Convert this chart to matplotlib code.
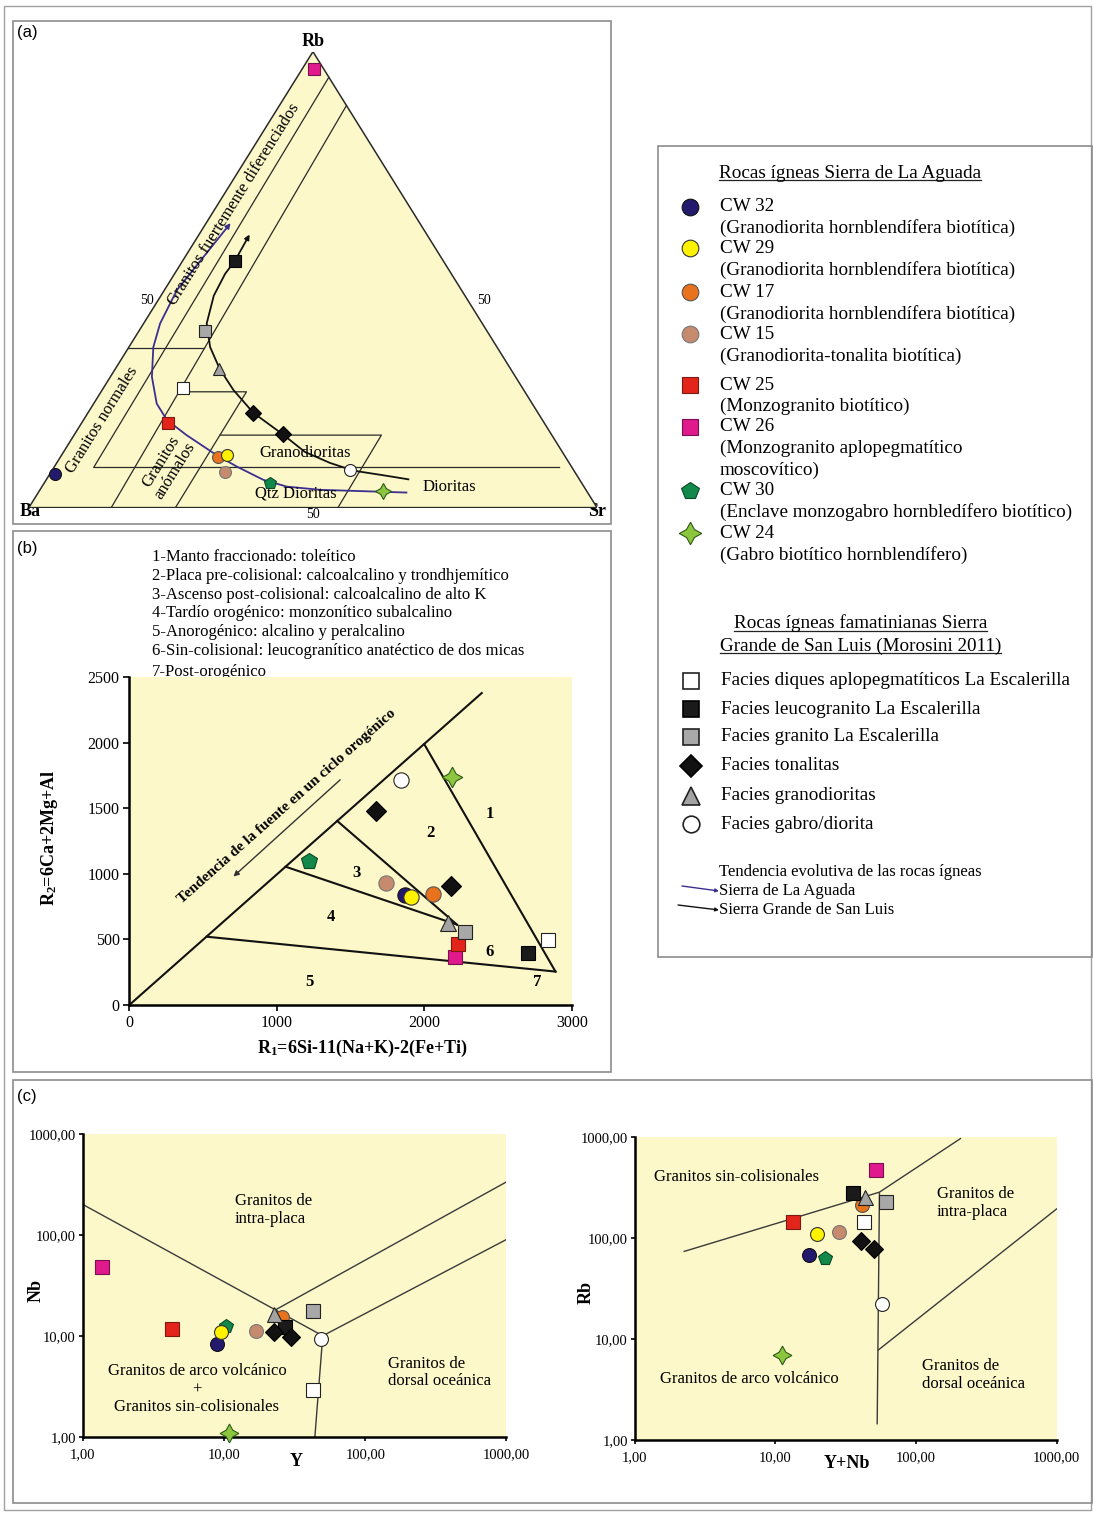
import numpy as np
import matplotlib.pyplot as plt
from matplotlib.patches import Rectangle, Polygon
from matplotlib.ticker import NullLocator

plt.rcParams['font.family'] = ['Liberation Serif', 'DejaVu Serif']
plt.rcParams['mathtext.fontset'] = 'custom'
plt.rcParams['mathtext.rm'] = 'Liberation Serif'
plt.rcParams['mathtext.bf'] = 'Liberation Serif:bold'
plt.rcParams['mathtext.it'] = 'Liberation Serif:italic'

# === DATA ===
# one entry per plotted point, legend order; tonalitas has two samples
keys = ['CW32', 'CW29', 'CW17', 'CW15', 'CW25', 'CW26', 'CW30', 'CW24',
        'diq', 'leu', 'gra', 'ton', 'ton', 'grd', 'gab']

# (a) Rb - Ba - Sr ternary, %
tern_rb = [7.3, 11.5, 11.1, 7.9, 18.6, 96.2, 5.5, 3.6, 26.3, 54.1, 38.7, 20.8, 16.1, 30.4, 8.2]
tern_sr = [1.0, 29.2, 27.8, 30.6, 15.1, 2.0, 39.7, 60.5, 14.0, 9.2, 11.7, 29.1, 36.6, 18.3, 52.5]
tern_ba = [91.7, 59.3, 61.1, 61.5, 66.3, 1.8, 54.8, 35.9, 59.7, 36.7, 49.6, 50.1, 47.3, 51.3, 39.3]

# evolution trends in (a): Rb %, Sr % (Ba = rest)
aguada_rb = [3.3, 3.9, 4.6, 6.1, 9.0, 11.5, 15.9, 19.2, 22.8, 28.7, 35.2, 40.4, 47.7, 62.4]
aguada_sr = [64.8, 49.3, 43.1, 38.2, 32.1, 27.3, 19.8, 14.7, 11.1, 7.3, 4.3, 2.9, 2.2, 4.3]
sanluis_rb = [6.2, 7.1, 8.1, 9.8, 12.2, 16.1, 20.8, 25.8, 30.4, 35.2, 40.4, 46.5, 51.3, 54.1, 59.9]
sanluis_sr = [63.7, 58.8, 53.1, 48.1, 42.5, 36.6, 29.1, 23.1, 18.4, 14.3, 11.1, 9.3, 8.9, 9.2, 8.9]

# field boundaries in (a): polylines of (Rb %, Sr %)
tern_fields = [
    [(94.4, 5.6), (8.8, 7.0), (8.8, 89.0)],
    [(88.2, 11.8), (0.0, 14.5)],
    [(34.9, 0.0), (34.9, 13.4)],
    [(25.4, 13.7), (25.4, 25.6), (0.0, 25.8)],
    [(15.9, 25.7), (15.9, 54.1), (0.0, 54.4)],
]

# (b) R1 - R2
r1 = [1871, 1912, 2057, 1742, 2227, 2206, 1220, 2188, 2837, 2704, 2279, 1672, 2181, 2159, 1844]
r2 = [840, 827, 847, 929, 466, 369, 1099, 1738, 496, 394, 560, 1483, 908, 623, 1718]
b_fields = [
    [(0, 0), (2390, 2380)],
    [(2000, 1990), (2890, 255)],
    [(525, 521), (2890, 255)],
    [(1410, 1404), (2222, 613)],
    [(1060, 1055), (2222, 613)],
]
b_zone_names = ['1', '2', '3', '4', '5', '6', '7']
b_zone_x = [2443, 2041, 1543, 1367, 1220, 2443, 2765]
b_zone_y = [1458, 1311, 1005, 674, 178, 407, 178]
b_legend = ['1-Manto fraccionado: toleítico',
            '2-Placa pre-colisional: calcoalcalino y trondhjemítico',
            '3-Ascenso post-colisional: calcoalcalino de alto K',
            '4-Tardío orogénico: monzonítico subalcalino',
            '5-Anorogénico: alcalino y peralcalino',
            '6-Sin-colisional: leucogranítico anatéctico de dos micas',
            '7-Post-orogénico']

# (c) Y - Nb
c1_y = [8.9, 9.5, 25.7, 16.7, 4.3, 1.36, 10.4, 10.8, 43, 27, 42.8, 22.7, 29.8, 22.5, 48.9]
c1_nb = [8.3, 10.8, 15.2, 11.2, 11.6, 48, 12.5, 1.1, 2.9, 12.3, 17.6, 11.0, 9.7, 16.4, 9.4]
c1_fields = [
    [(1, 200), (50, 10)],
    [(23, 18), (1000, 335)],
    [(50, 10), (1000, 90)],
    [(50, 10), (44, 1)],
]
# (c) Y+Nb - Rb
c2_ynb = [17.4, 19.7, 41.5, 28.5, 13.4, 52.3, 22.4, 11.2, 43, 35.9, 60.8, 40.5, 50.2, 43.5, 57.4]
c2_rb = [68.8, 111, 211, 116, 144, 474, 63.8, 7.0, 144, 282, 228, 93.4, 78.3, 257, 22.4]
c2_fields = [
    [(2.25, 74), (55, 286), (207, 970)],
    [(55, 280), (53, 1.45)],
    [(54, 7.8), (1000, 195)],
]
log_ticks = [1, 10, 100, 1000]
log_labels = ['1,00', '10,00', '100,00', '1000,00']

# legend texts
aguada_names = ['CW 32', 'CW 29', 'CW 17', 'CW 15', 'CW 25', 'CW 26', 'CW 30', 'CW 24']
aguada_desc = ['(Granodiorita hornblendífera biotítica)',
               '(Granodiorita hornblendífera biotítica)',
               '(Granodiorita hornblendífera biotítica)',
               '(Granodiorita-tonalita biotítica)',
               '(Monzogranito biotítico)',
               '(Monzogranito aplopegmatítico\nmoscovítico)',
               '(Enclave monzogabro hornbledífero biotítico)',
               '(Gabro biotítico hornblendífero)']
facies_keys = ['diq', 'leu', 'gra', 'ton', 'grd', 'gab']
facies_names = ['Facies diques aplopegmatíticos La Escalerilla',
                'Facies leucogranito La Escalerilla',
                'Facies granito La Escalerilla',
                'Facies tonalitas',
                'Facies granodioritas',
                'Facies gabro/diorita']

# === STYLES ===
W, H = 1094, 1514
BG = '#fdf8c9'
PURPLE = '#3b2f8f'
STYLE = {
    'CW32': dict(m='o', fc='#231a6e', ec='#111111', s=1.0),
    'CW29': dict(m='o', fc='#fff200', ec='#333333', s=1.0),
    'CW17': dict(m='o', fc='#e8731c', ec='#555555', s=1.0),
    'CW15': dict(m='o', fc='#c68a6e', ec='#777777', s=1.0),
    'CW25': dict(m='s', fc='#e3241b', ec='#7a1a10', s=0.95),
    'CW26': dict(m='s', fc='#e0198c', ec='#7a1050', s=0.95),
    'CW30': dict(m='p', fc='#12894a', ec='#0b4a26', s=1.08),
    'CW24': dict(m=(4, 1, 0), fc='#8cc63e', ec='#2d5a1a', s=1.35),
    'diq': dict(m='s', fc='white', ec='#222222', s=0.95),
    'leu': dict(m='s', fc='#1a1a1a', ec='#000000', s=0.95),
    'gra': dict(m='s', fc='#a8a8a8', ec='#222222', s=0.95),
    'ton': dict(m='D', fc='#111111', ec='#000000', s=0.9),
    'grd': dict(m='^', fc='#a3a3a3', ec='#222222', s=1.08),
    'gab': dict(m='o', fc='white', ec='#222222', s=1.0),
}
draw_order = [5, 4, 6, 3, 2, 0, 1, 7, 8, 9, 10, 11, 12, 13, 14]

fig = plt.figure(figsize=(W / 100, H / 100), dpi=100)
ov = fig.add_axes([0, 0, 1, 1], zorder=0)
ov.set_xlim(0, W)
ov.set_ylim(H, 0)
ov.set_axis_off()


def px_axes(l, t, r, b):
    return fig.add_axes([l / W, 1 - b / H, (r - l) / W, (b - t) / H], zorder=1)


def frame(l, t, r, b, lw=1.2, c='#8c8c8c'):
    ov.add_patch(Rectangle((l, t), r - l, b - t, fill=False, ec=c, lw=lw))


def plot_pts(ax, xs, ys, ms):
    for i in draw_order:
        st = STYLE[keys[i]]
        ax.plot(xs[i], ys[i], ls='none', marker=st['m'], ms=ms * st['s'],
                mfc=st['fc'], mec=st['ec'], mew=0.8, clip_on=False, zorder=5)


def tern(rb, sr, ba=None):
    rb = np.asarray(rb, float)
    sr = np.asarray(sr, float)
    ba = 100 - rb - sr if ba is None else np.asarray(ba, float)
    tot = rb + sr + ba
    return (sr + rb / 2) / tot, rb / tot


# frames
frame(4, 6, 1091, 1510, lw=1.0, c='#a0a0a0')
frame(13, 21, 611, 524)
frame(13, 531, 611, 1072)
frame(658, 146, 1092, 957)
frame(13, 1080, 1092, 1503)
for lab, y in [('(a)', 33), ('(b)', 549), ('(c)', 1097)]:
    ov.text(17, y, lab, family='Liberation Sans', fontsize=12, va='center', ha='left')

# === (a) ternary ===
axa = px_axes(28.9, 51.7, 597.0, 507.6)
axa.set_xlim(0, 1)
axa.set_ylim(0, 1)
axa.set_axis_off()
axa.add_patch(Polygon([(0, 0), (1, 0), (0.5, 1)], closed=True, fc=BG, ec='#2a2a2a', lw=1.1))
for fl in tern_fields:
    fx, fy = tern([p[0] for p in fl], [p[1] for p in fl])
    axa.plot(fx, fy, color='#2a2a2a', lw=0.9)
ax_, ay_ = tern(aguada_rb, aguada_sr)
axa.plot(ax_[:-1], ay_[:-1], color=PURPLE, lw=1.3)
axa.annotate('', xy=(ax_[-1], ay_[-1]), xytext=(ax_[-2], ay_[-2]),
             arrowprops=dict(arrowstyle='-|>', color=PURPLE, lw=1.3, mutation_scale=7,
                             shrinkA=0, shrinkB=0))
sx_, sy_ = tern(sanluis_rb, sanluis_sr)
axa.plot(sx_[:-1], sy_[:-1], color='#111111', lw=1.3)
axa.annotate('', xy=(sx_[-1], sy_[-1]), xytext=(sx_[-2], sy_[-2]),
             arrowprops=dict(arrowstyle='-|>', color='#111111', lw=1.3, mutation_scale=7,
                             shrinkA=0, shrinkB=0))
px_, py_ = tern(tern_rb, tern_sr, tern_ba)
plot_pts(axa, px_, py_, 8.6)

tfs = 12
axa.text(0.36, 0.666, 'Granitos fuertemente diferenciados', rotation=58, rotation_mode='anchor',
         ha='center', va='center', fontsize=tfs)
axa.text(0.1296, 0.192, 'Granitos normales', rotation=58, rotation_mode='anchor',
         ha='center', va='center', fontsize=tfs)
axa.text(0.245, 0.091, 'Granitos\nanómalos', rotation=58, rotation_mode='anchor',
         ha='center', va='center', fontsize=tfs, linespacing=1.0)
axa.text(0.4869, 0.119, 'Granodioritas', ha='center', va='center', fontsize=12)
axa.text(0.4698, 0.0313, 'Qtz Dioritas', ha='center', va='center', fontsize=12)
axa.text(0.740, 0.0444, 'Dioritas', ha='center', va='center', fontsize=12)

ov.text(313, 42, 'Rb', ha='center', va='center', fontsize=13, fontweight='bold')
ov.text(30, 512, 'Ba', ha='center', va='center', fontsize=13, fontweight='bold')
ov.text(597, 512, 'Sr', ha='center', va='center', fontsize=13, fontweight='bold')
ov.text(154, 300, '50', ha='right', va='center', fontsize=10)
ov.text(477, 300, '50', ha='left', va='center', fontsize=10)
ov.text(313, 514, '50', ha='center', va='center', fontsize=10)

# === (b) R1-R2 ===
for i, s in enumerate(b_legend):
    yy = 557 + 18.8 * i + (2.5 if i == 6 else 0)
    ov.text(152, yy, s, ha='left', va='center', fontsize=12)

axb = px_axes(129.3, 677.3, 571.7, 1005)
axb.set_facecolor(BG)
axb.set_xlim(0, 3000)
axb.set_ylim(0, 2500)
for sp in ['top', 'right']:
    axb.spines[sp].set_visible(False)
for sp in ['left', 'bottom']:
    axb.spines[sp].set_linewidth(1.8)
axb.set_xticks([0, 1000, 2000, 3000])
axb.set_yticks([0, 500, 1000, 1500, 2000, 2500])
axb.tick_params(direction='out', length=4, width=1.2, labelsize=11.5, pad=3)
for fl in b_fields:
    axb.plot([p[0] for p in fl], [p[1] for p in fl], color='#111111', lw=1.5)
axb.annotate('', xy=(706, 980), xytext=(1430, 1718),
             arrowprops=dict(arrowstyle='-|>', color='#333333', lw=1.0, mutation_scale=8,
                             shrinkA=0, shrinkB=0))
axb.text(1068, 1514, 'Tendencia de la fuente en un ciclo orogénico', rotation=41.5,
         rotation_mode='anchor', ha='center', va='center', fontsize=11, fontweight='bold')
for n, zx, zy in zip(b_zone_names, b_zone_x, b_zone_y):
    axb.text(zx, zy, n, ha='center', va='center', fontsize=12, fontweight='bold')
plot_pts(axb, r1, r2, 11)
ov.text(362, 1048, r'R$_\mathbf{1}$=6Si-11(Na+K)-2(Fe+Ti)', ha='center', va='center',
        fontsize=13, fontweight='bold')
ov.text(50, 838, r'R$_\mathbf{2}$=6Ca+2Mg+Al', ha='center', va='center', rotation=90,
        fontsize=13, fontweight='bold')


# === (c) log plots ===
def log_axes(l, t, r, b):
    ax = px_axes(l, t, r, b)
    ax.set_facecolor(BG)
    ax.set_xscale('log')
    ax.set_yscale('log')
    ax.set_xlim(1, 1000)
    ax.set_ylim(1, 1000)
    for sp in ['top', 'right']:
        ax.spines[sp].set_visible(False)
    for sp in ['left', 'bottom']:
        ax.spines[sp].set_linewidth(1.8)
    ax.set_xticks(log_ticks)
    ax.set_xticklabels(log_labels)
    ax.set_yticks(log_ticks)
    ax.set_yticklabels(log_labels)
    ax.xaxis.set_minor_locator(NullLocator())
    ax.yaxis.set_minor_locator(NullLocator())
    ax.tick_params(direction='out', length=3, width=1.2, labelsize=10.5, pad=2)
    ax.tick_params(axis='x', pad=5)
    return ax


axc1 = log_axes(82.9, 1134, 506.4, 1436.7)
for fl in c1_fields:
    axc1.plot([p[0] for p in fl], [p[1] for p in fl], color='#3a3a3a', lw=1.0)
axc1.text(11.9, 177, 'Granitos de\nintra-placa', ha='left', va='center', fontsize=12,
          linespacing=1.15)
axc1.text(6.43, 2.95, 'Granitos de arco volcánico\n+\nGranitos sin-colisionales', ha='center',
          va='center', fontsize=12, linespacing=1.15)
axc1.text(145, 4.33, 'Granitos de\ndorsal oceánica', ha='left', va='center', fontsize=12,
          linespacing=1.15)
plot_pts(axc1, c1_y, c1_nb, 10)
ov.text(36, 1290, 'Nb', rotation=90, ha='center', va='center', fontsize=13, fontweight='bold')
ov.text(296, 1461, 'Y', ha='center', va='center', fontsize=13, fontweight='bold')

axc2 = log_axes(634.7, 1137.3, 1056.6, 1440)
for fl in c2_fields:
    axc2.plot([p[0] for p in fl], [p[1] for p in fl], color='#3a3a3a', lw=1.0)
axc2.text(1.37, 401, 'Granitos sin-colisionales', ha='left', va='center', fontsize=12)
axc2.text(140, 224, 'Granitos de\nintra-placa', ha='left', va='center', fontsize=12,
          linespacing=1.15)
axc2.text(6.52, 4.0, 'Granitos de arco volcánico', ha='center', va='center', fontsize=12)
axc2.text(111, 4.43, 'Granitos de\ndorsal oceánica', ha='left', va='center', fontsize=12,
          linespacing=1.15)
plot_pts(axc2, c2_ynb, c2_rb, 10)
ov.text(586, 1293, 'Rb', rotation=90, ha='center', va='center', fontsize=13, fontweight='bold')
ov.text(847, 1463, 'Y+Nb', ha='center', va='center', fontsize=13, fontweight='bold')

# === legend ===
LFS = 13.8
titles = []
titles.append(ov.text(719, 177.5, 'Rocas ígneas Sierra de La Aguada', ha='left',
                      va='baseline', fontsize=LFS))
entry_y = [206.7, 248.3, 292.3, 334.3, 385, 426.7, 490.7, 533.3]
for k, name, desc, yy in zip(keys[:8], aguada_names, aguada_desc, entry_y):
    st = STYLE[k]
    ov.plot(690, yy, ls='none', marker=st['m'], ms=12 * st['s'], mfc=st['fc'], mec=st['ec'],
            mew=0.8)
    ov.text(720, yy, name, ha='left', va='center', fontsize=LFS)
    for j, line in enumerate(desc.split('\n')):
        ov.text(720, yy + 21.6 * (j + 1), line, ha='left', va='center', fontsize=LFS)

titles.append(ov.text(860.5, 628.5, 'Rocas ígneas famatinianas Sierra', ha='center',
                      va='baseline', fontsize=LFS))
titles.append(ov.text(860.5, 650.5, 'Grande de San Luis (Morosini 2011)', ha='center',
                      va='baseline', fontsize=LFS))
fac_y = [680.7, 709, 736.7, 765.7, 796, 824.3]
for k, name, yy in zip(facies_keys, facies_names, fac_y):
    st = STYLE[k]
    ov.plot(690.7, yy, ls='none', marker=st['m'], ms=12 * st['s'], mfc=st['fc'], mec=st['ec'],
            mew=1.2)
    ov.text(720.7, yy, name, ha='left', va='center', fontsize=LFS)

ov.text(719, 871.7, 'Tendencia evolutiva de las rocas ígneas', ha='left', va='center', fontsize=12)
ov.text(719, 891, 'Sierra de La Aguada', ha='left', va='center', fontsize=12)
ov.text(719, 910, 'Sierra Grande de San Luis', ha='left', va='center', fontsize=12)
ov.annotate('', xy=(719, 891), xytext=(682, 886),
            arrowprops=dict(arrowstyle='-|>', color=PURPLE, lw=1.0, mutation_scale=5,
                            shrinkA=0, shrinkB=0))
ov.annotate('', xy=(719, 910), xytext=(678, 905),
            arrowprops=dict(arrowstyle='-|>', color='#111111', lw=1.0, mutation_scale=5,
                            shrinkA=0, shrinkB=0))

# underline the legend titles
fig.canvas.draw()
rend = fig.canvas.get_renderer()
for t in titles:
    bb = t.get_window_extent(rend)
    ybase = t.get_position()[1] + 2.5
    ov.plot([bb.x0, bb.x1], [ybase, ybase], color='#222222', lw=0.9)

fig.savefig('out.png', dpi=100)
